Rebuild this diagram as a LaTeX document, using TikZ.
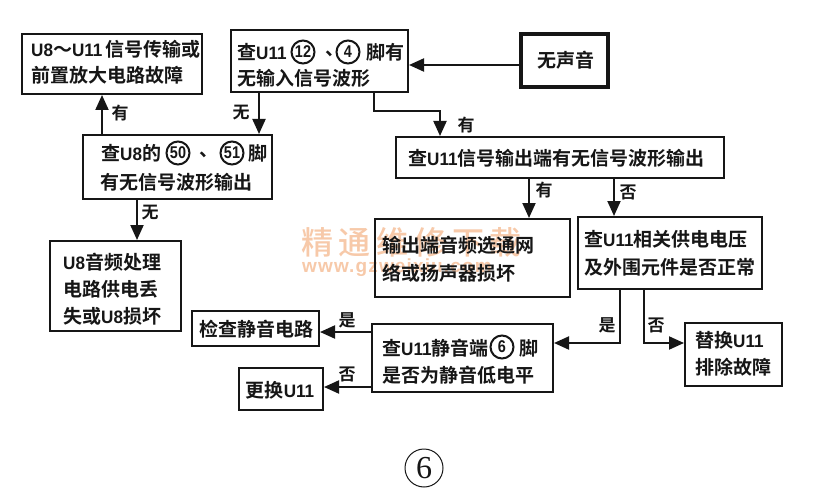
\documentclass[tikz,border=0pt]{standalone}
\usepackage{fontspec}
\setmainfont{Liberation Sans}
\newfontfamily\cjk[BoldFont={Noto Sans CJK SC Bold}]{Noto Sans CJK SC}
\newfontfamily\wmfont[LetterSpace=18]{Noto Sans CJK SC Medium}
\newfontfamily\wmlat[LetterSpace=6]{Liberation Sans}
\newfontfamily\latfont[FakeStretch=0.95]{Liberation Sans}
\newfontfamily\circfont[FakeStretch=0.85]{Liberation Sans}
\newfontfamily\serifnum{Liberation Serif}
\newcommand{\latn}[1]{{\latfont\bfseries\fontsize{18}{18}\selectfont #1}}
\newcommand{\dunhao}{\makebox[9pt][l]{、}}
\usetikzlibrary{arrows.meta,calc}
\definecolor{ink}{HTML}{161616}
\definecolor{wm}{HTML}{F7C9A9}
\tikzset{
  x=1pt,y=-1pt,
  boxa/.style={draw=ink,line width=2pt,inner sep=0pt},
  lab/.style={font=\cjk\bfseries\fontsize{19}{#1}\selectfont,text=ink,inner sep=0pt,align=left},
  lab/.default=27,
  small/.style={font=\cjk\bfseries\fontsize{17}{17}\selectfont,text=ink,inner sep=0pt},
  conn/.style={draw=ink,line width=2pt,-{Triangle[length=15pt,width=13pt]}},
  wmk/.style={text=wm,inner sep=0pt},
  circ/.style={draw=ink,circle,line width=2pt,minimum size=23pt,inner sep=0pt,text=ink,font=\circfont\bfseries\fontsize{17}{17}\selectfont}
}
\begin{document}
\begin{tikzpicture}
\useasboundingbox (0,0) rectangle (816,500);
\fill[white] (0,0) rectangle (816,500);
% watermark below boxes
\node[wmk,font=\wmfont\fontsize{32}{32}\selectfont,anchor=west] (w1) at (301,242) {精通维修下载};
\node[wmk,font=\wmlat\bfseries\fontsize{19}{19}\selectfont,anchor=west] (w2) at (302,268) {www.gzweixiu.com};
% boxes
\node[boxa,minimum width=180pt,minimum height=60pt] (a) at (112,64) {};
\node[boxa,minimum width=177pt,minimum height=62pt] (b) at (319.5,61) {};
\node[boxa,line width=3.4pt,minimum width=87pt,minimum height=53pt] (s) at (564.5,60.5) {};
\node[boxa,minimum width=189pt,minimum height=64pt] (c) at (177.5,167) {};
\node[boxa,minimum width=131pt,minimum height=90pt] (d) at (115.5,286) {};
\node[boxa,minimum width=328pt,minimum height=41pt] (e) at (560,157.5) {};
\node[boxa,minimum width=195pt,minimum height=78pt] (f) at (472.5,258) {};
\node[boxa,minimum width=184pt,minimum height=72pt] (g) at (670,253) {};
\node[boxa,minimum width=127pt,minimum height=35pt] (h) at (255.5,328.5) {};
\node[boxa,minimum width=181pt,minimum height=68pt] (i) at (462.5,358) {};
\node[boxa,minimum width=84pt,minimum height=42pt] (j) at (281,389) {};
\node[boxa,minimum width=97pt,minimum height=63pt] (k) at (733.5,354.5) {};
% texts
\node[lab=26,anchor=west] (ta) at (31,62) {\latn{U8}～\latn{U11}\,信号传输或\\前置放大电路故障};
\node[lab,anchor=west] (tb1) at (237,52) {查\latn{U11}};
\node[circ] (cb1) at (303,52) {12};
\node[lab,anchor=center] (tb3) at (330,54) {\dunhao};
\node[circ] (cb2) at (348,52) {4};
\node[lab,anchor=west] (tb4) at (366,52) {脚有};
\node[lab,anchor=west] (tb2) at (237,78) {无输入信号波形};
\node[lab,anchor=center] (ts) at (566,60) {无声音};
\node[lab,anchor=west] (tc1) at (101,153) {查\latn{U8}的};
\node[circ] (cc1) at (178,153) {50};
\node[lab,anchor=center] (tc3) at (204,155) {\dunhao};
\node[circ] (cc2) at (232,153) {51};
\node[lab,anchor=west] (tc4) at (248,153) {脚};
\node[lab,anchor=west] (tc2) at (100,182) {有无信号波形输出};
\node[lab,anchor=west] (td) at (63,289) {\latn{U8}音频处理\\电路供电丢\\失或\latn{U8}损坏};
\node[lab,anchor=west] (te) at (408,158) {查\latn{U11}信号输出端有无信号波形输出};
\node[lab=28,anchor=west] (tf) at (382,259) {输出端音频选通网\\络或扬声器损坏};
\node[lab=28,anchor=west] (tg) at (584,253) {查\latn{U11}相关供电电压\\及外围元件是否正常};
\node[lab,anchor=center] (th) at (256,329) {检查静音电路};
\node[lab,anchor=west] (ti1) at (382,348) {查\latn{U11}静音端};
\node[circ] (ci) at (502,347) {6};
\node[lab,anchor=west] (ti3) at (519,348) {脚};
\node[lab,anchor=west] (ti2) at (382,375) {是否为静音低电平};
\node[lab,anchor=center] (tj) at (280,390) {更换\latn{U11}};
\node[lab,anchor=west] (tk) at (695,353.5) {替换\latn{U11}\\排除故障};
% big mark
\node[draw=ink,circle,line width=1pt,minimum size=38pt,inner sep=0pt,font=\serifnum\fontsize{32}{32}\selectfont,text=ink] (m) at (424,468) {6};
% connector routing points
\coordinate (p1) at (259,0);
\coordinate (p2) at (102,0);
\coordinate (p3) at (137,0);
\coordinate (p4) at (374,111);
\coordinate (p5) at (440,111);
\coordinate (p6) at (529,0);
\coordinate (p7) at (614,0);
\coordinate (p8) at (620,343);
\coordinate (p9) at (644,343);
\coordinate (p10) at (0,65);
\coordinate (p11) at (0,332);
\coordinate (p12) at (0,387);
% connectors
\draw[conn] (s.west |- p10) -- (b.east |- p10);
\draw[conn] (b.south -| p1) -- (c.north -| p1);
\draw[conn] (c.north -| p2) -- (a.south -| p2);
\draw[conn] (c.south -| p3) -- (d.north -| p3);
\draw[conn] (b.south -| p4) -- (p4) -- (p5) -- (e.north -| p5);
\draw[conn] (e.south -| p6) -- (f.north -| p6);
\draw[conn] (e.south -| p7) -- (g.north -| p7);
\draw[conn] (g.south -| p8) -- (p8) -- (i.east |- p8);
\draw[conn] (g.south -| p9) -- (p9) -- (k.west |- p9);
\draw[conn] (i.west |- p11) -- (h.east |- p11);
\draw[conn] (i.west |- p12) -- (j.east |- p12);
% connector labels
\node[small] (l1) at (120,113) {有};
\node[small] (l2) at (241,113) {无};
\node[small] (l3) at (150,213) {无};
\node[small] (l4) at (466,125) {有};
\node[small] (l5) at (544,190) {有};
\node[small] (l6) at (628,192) {否};
\node[small] (l7) at (607,325) {是};
\node[small] (l8) at (656,325) {否};
\node[small] (l9) at (347,320) {是};
\node[small] (l10) at (347,374) {否};
\end{tikzpicture}
\end{document}
